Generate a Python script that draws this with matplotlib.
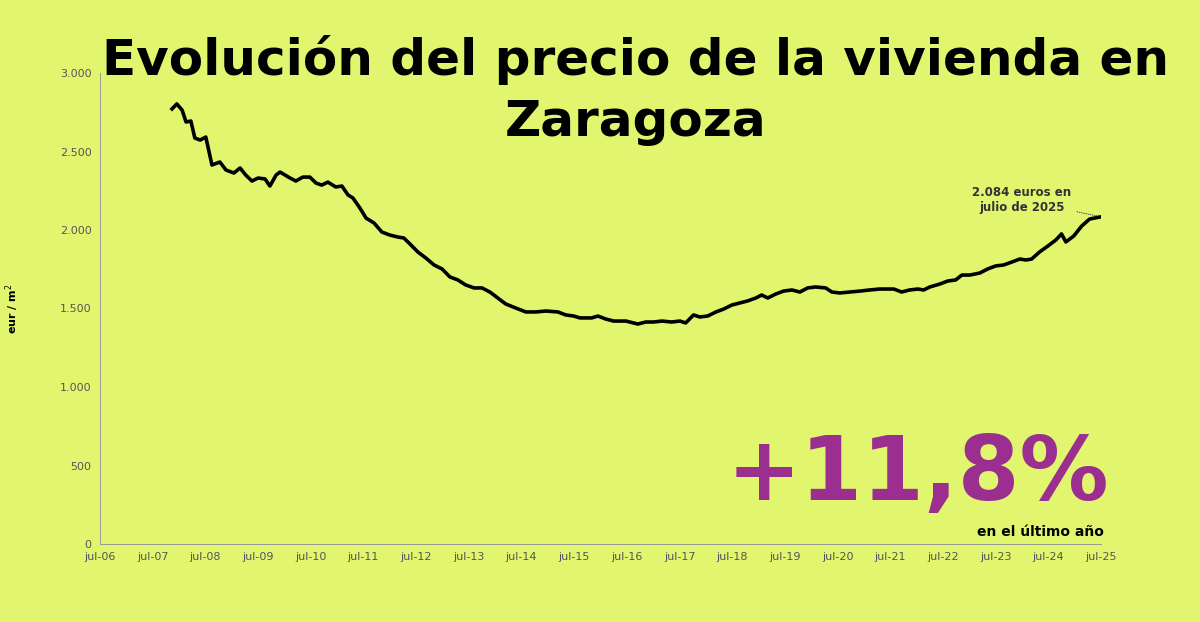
import matplotlib
matplotlib.use("Agg")
import matplotlib.pyplot as plt
from matplotlib import font_manager
from matplotlib.ticker import FuncFormatter

# months since jul-06
months = [16.4, 17.5, 18.7, 19.6, 20.7, 21.6, 22.8, 24.1, 25.5, 27.3, 28.7, 30.5, 31.9, 33.2, 34.6, 36.0,
          37.6, 38.7, 40.1, 41.0, 43.3, 44.6, 46.2, 47.8, 49.2, 50.5, 51.9, 53.7, 55.1, 56.5, 57.6, 59.2,
          60.6, 62.4, 64.2, 66.0, 67.9, 69.2, 70.6, 72.4, 74.2, 76.1, 77.9, 79.7, 81.5, 83.3, 85.2, 87.0,
          88.8, 90.6, 92.4, 94.7, 97.0, 99.3, 101.6, 104.3, 106.1, 107.9, 109.3, 112.0, 113.4, 115.2, 117.0,
          119.8, 122.5, 124.3, 126.1, 128.0, 130.2, 132.1, 133.4, 135.2, 136.6, 138.4, 140.3, 142.1, 143.9,
          145.7, 147.5, 149.4, 150.7, 152.1, 153.9, 155.7, 157.6, 159.4, 161.2, 163.0, 165.3, 166.7, 168.5,
          170.8, 173.1, 175.3, 177.6, 180.8, 182.6, 184.4, 186.3, 187.6, 189.0, 191.3, 193.1, 194.9, 196.3,
          198.1, 200.4, 202.2, 204.0, 205.8, 207.7, 209.5, 210.9, 212.2, 214.0, 215.9, 217.7, 219.0, 220.0,
          221.8, 223.6, 225.4, 228.0]
prices = [2771, 2803, 2764, 2688, 2694, 2586, 2573, 2592, 2414, 2433, 2382, 2363, 2395, 2350, 2312, 2331,
          2325, 2280, 2350, 2369, 2331, 2312, 2337, 2337, 2299, 2286, 2305, 2274, 2280, 2223, 2204, 2140,
          2076, 2045, 1987, 1968, 1955, 1949, 1911, 1860, 1822, 1777, 1752, 1701, 1682, 1650, 1631, 1631,
          1605, 1567, 1529, 1503, 1478, 1478, 1484, 1478, 1459, 1452, 1440, 1440, 1452, 1433, 1420,
          1420, 1401, 1414, 1414, 1420, 1414, 1420, 1408, 1459, 1446, 1452, 1478, 1497, 1522,
          1535, 1548, 1567, 1586, 1567, 1592, 1611, 1618, 1605, 1631, 1637, 1631, 1605, 1599,
          1605, 1611, 1618, 1624, 1624, 1605, 1618, 1624, 1618, 1637, 1656, 1675, 1682, 1713,
          1713, 1726, 1752, 1771, 1777, 1796, 1815, 1809, 1815, 1860, 1898, 1936, 1975, 1924,
          1962, 2025, 2070, 2084]
tick_labels = ["jul-%02d" % y for y in range(6, 26)]

names = {f.name for f in font_manager.fontManager.ttflist}
narrow = "Liberation Sans Narrow" if "Liberation Sans Narrow" in names else "DejaVu Sans"

bg = "#E2F56E"
fig = plt.figure(figsize=(12, 6.22), dpi=100, facecolor=bg)
ax = fig.add_axes([100 / 1200, 1 - 544 / 622, 1001 / 1200, 471 / 622], facecolor=bg)
ax.plot(months, prices, color="black", lw=2.6)
ax.set_xlim(0, 228)
ax.set_ylim(0, 3000)
ax.set_xticks(range(0, 229, 12))
ax.set_xticklabels(tick_labels)
ax.set_yticks(range(0, 3001, 500))
ax.yaxis.set_major_formatter(FuncFormatter(lambda v, p: f"{int(v):,}".replace(",", ".")))
ax.tick_params(labelsize=8, colors="#555555", length=0, pad=6)
for s in ["top", "right"]:
    ax.spines[s].set_visible(False)
ax.spines["left"].set_color("#999999")
ax.spines["bottom"].set_color("#999999")
ax.spines["left"].set_linewidth(0.7)
ax.spines["bottom"].set_linewidth(0.7)
ax.set_ylabel("eur / m$^2$", fontsize=8, fontweight="bold", labelpad=28)

fig.text(0.53, 0.855, "Evolución del precio de la vivienda en\nZaragoza", ha="center", va="center",
         fontsize=36, fontweight="bold", family=narrow, linespacing=1.35)
ax.annotate("2.084 euros en\njulio de 2025", xy=(228, 2084), xytext=(210, 2120), ha="center",
            fontsize=8.5, fontweight="bold", color="#333333",
            arrowprops=dict(arrowstyle="-", lw=0.6, ls=":", color="#333333"))
fig.text(0.924, 0.235, "+11,8%", ha="right", va="center", fontsize=64, fontweight="bold",
         family=narrow, color="#9B2F8F")
fig.text(0.92, 0.145, "en el último año", ha="right", va="center", fontsize=10, fontweight="bold")
fig.savefig("out.png", facecolor=bg)
